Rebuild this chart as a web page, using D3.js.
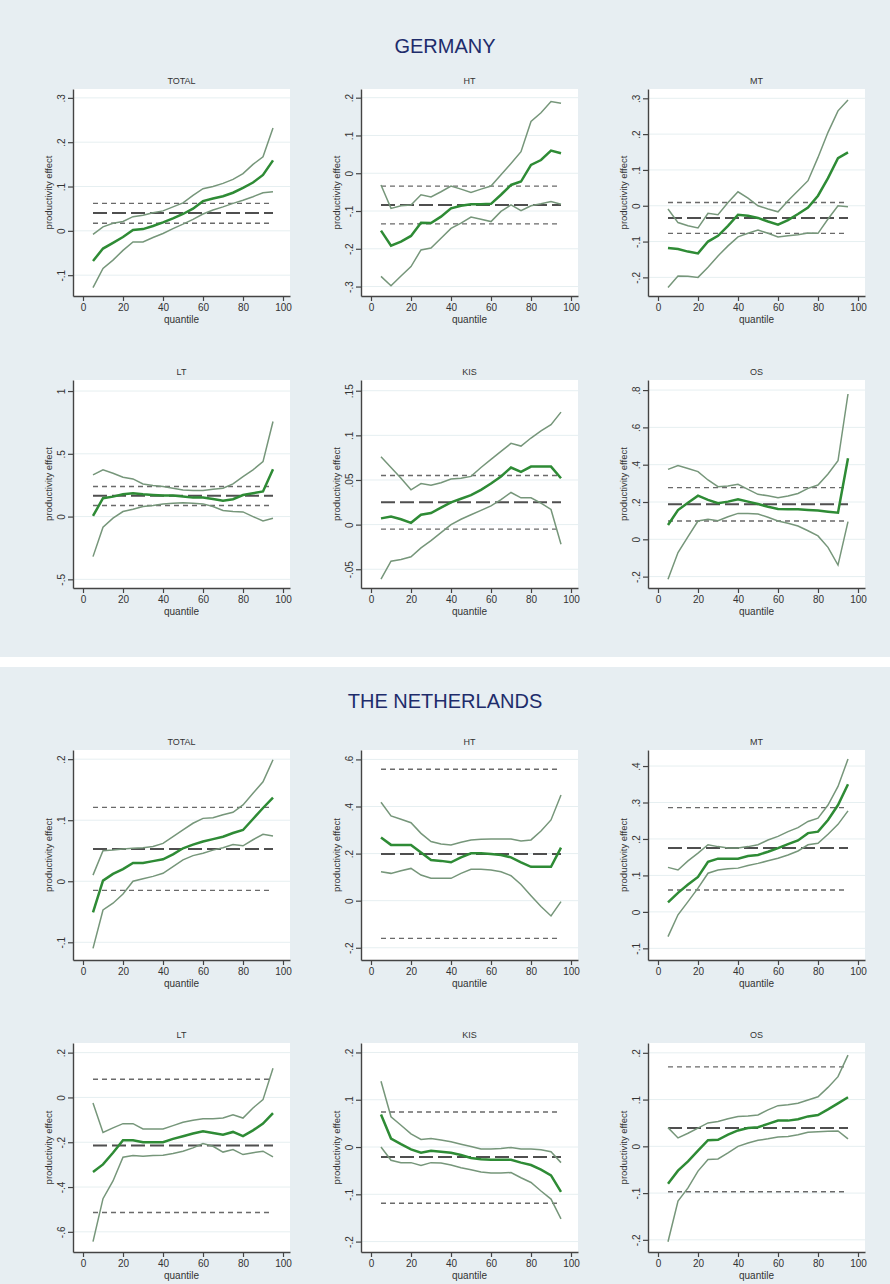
<!DOCTYPE html>
<html>
<head>
<meta charset="utf-8">
<script src="https://cdn.jsdelivr.net/npm/d3@7"></script>
<style>
  body { margin: 0; background: #fff; }
  text { font-family: "Liberation Sans", Arial, sans-serif; }
</style>
</head>
<body>
<div id="chart"></div>
<script>
// quantiles on the x axis
var quantiles = [5, 10, 15, 20, 25, 30, 35, 40, 45, 50, 55, 60, 65, 70, 75, 80, 85, 90, 95];
var sectors = ["TOTAL", "HT", "MT", "LT", "KIS", "OS"];
var countries = ["GERMANY", "THE NETHERLANDS"];

// ---- Germany: quantile estimates and confidence bands
var deTotalEst  = [-0.068,-0.040,-0.027,-0.014,0.002,0.004,0.011,0.019,0.028,0.038,0.050,0.067,0.073,0.078,0.086,0.097,0.109,0.126,0.159];
var deTotalLow  = [-0.128,-0.085,-0.066,-0.044,-0.025,-0.025,-0.015,-0.006,0.005,0.015,0.026,0.038,0.047,0.054,0.062,0.069,0.077,0.086,0.088];
var deTotalHigh = [-0.008,0.009,0.017,0.021,0.032,0.035,0.041,0.045,0.054,0.063,0.080,0.095,0.100,0.107,0.116,0.129,0.150,0.167,0.232];

var deHtEst  = [-0.152,-0.192,-0.181,-0.166,-0.131,-0.132,-0.115,-0.093,-0.086,-0.082,-0.082,-0.081,-0.057,-0.031,-0.022,0.022,0.035,0.060,0.053];
var deHtLow  = [-0.273,-0.298,-0.272,-0.247,-0.203,-0.198,-0.172,-0.146,-0.132,-0.116,-0.122,-0.128,-0.101,-0.084,-0.099,-0.086,-0.081,-0.075,-0.082];
var deHtHigh = [-0.031,-0.093,-0.086,-0.084,-0.057,-0.063,-0.049,-0.034,-0.042,-0.051,-0.042,-0.034,-0.004,0.026,0.057,0.137,0.160,0.190,0.185];

var deMtEst  = [-0.118,-0.121,-0.128,-0.133,-0.100,-0.084,-0.056,-0.025,-0.028,-0.034,-0.044,-0.053,-0.040,-0.023,-0.005,0.028,0.077,0.133,0.149];
var deMtLow  = [-0.228,-0.196,-0.197,-0.200,-0.172,-0.140,-0.112,-0.087,-0.077,-0.068,-0.077,-0.087,-0.084,-0.081,-0.076,-0.077,-0.037,0.000,-0.003];
var deMtHigh = [-0.009,-0.047,-0.056,-0.062,-0.021,-0.025,0.009,0.039,0.021,0.000,-0.009,-0.017,0.014,0.042,0.070,0.135,0.205,0.265,0.295];

var deLtEst  = [0.005,0.146,0.159,0.178,0.186,0.178,0.172,0.167,0.167,0.159,0.151,0.151,0.140,0.127,0.138,0.172,0.186,0.200,0.377];
var deLtLow  = [-0.319,-0.085,-0.013,0.040,0.058,0.080,0.088,0.101,0.106,0.111,0.106,0.101,0.080,0.048,0.040,0.037,0.000,-0.035,-0.013];
var deLtHigh = [0.332,0.372,0.345,0.313,0.300,0.260,0.247,0.239,0.226,0.212,0.207,0.207,0.218,0.226,0.260,0.319,0.372,0.438,0.757];

var deKisEst  = [0.007,0.009,0.006,0.002,0.011,0.013,0.019,0.025,0.029,0.033,0.039,0.046,0.054,0.064,0.059,0.065,0.065,0.065,0.052];
var deKisLow  = [-0.061,-0.041,-0.039,-0.036,-0.026,-0.018,-0.009,0.000,0.006,0.011,0.016,0.021,0.028,0.036,0.030,0.030,0.024,0.017,-0.022];
var deKisHigh = [0.076,0.064,0.052,0.039,0.046,0.044,0.047,0.051,0.052,0.054,0.064,0.073,0.082,0.091,0.088,0.097,0.105,0.112,0.126];

var deOsEst  = [0.077,0.157,0.196,0.234,0.211,0.193,0.202,0.214,0.202,0.189,0.175,0.163,0.161,0.161,0.157,0.154,0.148,0.143,0.434];
var deOsLow  = [-0.214,-0.071,0.014,0.098,0.107,0.100,0.121,0.139,0.139,0.136,0.118,0.098,0.086,0.071,0.046,0.018,-0.043,-0.138,0.095];
var deOsHigh = [0.375,0.395,0.380,0.363,0.318,0.282,0.286,0.295,0.268,0.241,0.234,0.223,0.232,0.246,0.273,0.291,0.350,0.421,0.779];

// Germany OLS estimate and its band, one per sector
var deOls     = [0.040,-0.084,-0.034,0.165,0.025,0.188];
var deOlsLow  = [0.017,-0.134,-0.077,0.088,-0.005,0.098];
var deOlsHigh = [0.062,-0.034,0.009,0.239,0.055,0.277];

// ---- Netherlands
var nlTotalEst  = [-0.051,0.001,0.012,0.020,0.030,0.030,0.033,0.036,0.044,0.054,0.060,0.065,0.069,0.073,0.079,0.084,0.102,0.120,0.137];
var nlTotalLow  = [-0.110,-0.047,-0.036,-0.021,0.000,0.004,0.008,0.013,0.024,0.035,0.042,0.046,0.051,0.055,0.060,0.058,0.068,0.077,0.074];
var nlTotalHigh = [0.010,0.050,0.051,0.053,0.054,0.055,0.057,0.062,0.073,0.084,0.095,0.103,0.104,0.109,0.113,0.125,0.144,0.163,0.199];

var nlHtEst  = [0.268,0.237,0.237,0.237,0.205,0.173,0.169,0.163,0.184,0.201,0.201,0.198,0.194,0.184,0.163,0.144,0.144,0.144,0.225];
var nlHtLow  = [0.123,0.116,0.127,0.137,0.109,0.095,0.095,0.095,0.116,0.133,0.133,0.130,0.123,0.106,0.069,0.021,-0.025,-0.065,-0.004];
var nlHtHigh = [0.418,0.360,0.346,0.331,0.286,0.251,0.241,0.237,0.248,0.258,0.261,0.262,0.262,0.262,0.254,0.258,0.296,0.343,0.449];

var nlMtEst  = [0.026,0.052,0.075,0.096,0.137,0.146,0.146,0.146,0.153,0.156,0.165,0.175,0.186,0.196,0.216,0.220,0.252,0.293,0.350];
var nlMtLow  = [-0.068,-0.008,0.028,0.065,0.106,0.115,0.118,0.120,0.127,0.133,0.140,0.147,0.156,0.167,0.184,0.188,0.213,0.240,0.277];
var nlMtHigh = [0.122,0.115,0.140,0.161,0.184,0.179,0.175,0.175,0.179,0.184,0.197,0.207,0.220,0.231,0.248,0.257,0.293,0.344,0.419];

var nlLtEst  = [-0.333,-0.299,-0.247,-0.191,-0.191,-0.200,-0.200,-0.200,-0.185,-0.173,-0.161,-0.151,-0.159,-0.166,-0.154,-0.173,-0.147,-0.117,-0.070];
var nlLtLow  = [-0.644,-0.452,-0.373,-0.267,-0.259,-0.262,-0.259,-0.258,-0.250,-0.240,-0.225,-0.206,-0.218,-0.244,-0.233,-0.255,-0.247,-0.240,-0.265];
var nlLtHigh = [-0.025,-0.156,-0.136,-0.117,-0.117,-0.141,-0.141,-0.141,-0.126,-0.111,-0.102,-0.095,-0.095,-0.092,-0.077,-0.092,-0.047,-0.010,0.130];

var nlKisEst  = [0.069,0.018,0.006,-0.005,-0.012,-0.008,-0.010,-0.012,-0.017,-0.023,-0.026,-0.027,-0.027,-0.027,-0.033,-0.038,-0.048,-0.060,-0.095];
var nlKisLow  = [0.000,-0.028,-0.033,-0.033,-0.039,-0.033,-0.034,-0.038,-0.044,-0.048,-0.053,-0.055,-0.055,-0.054,-0.065,-0.075,-0.093,-0.110,-0.152];
var nlKisHigh = [0.139,0.064,0.046,0.028,0.016,0.018,0.015,0.011,0.006,0.001,-0.004,-0.004,-0.003,-0.001,-0.004,-0.004,-0.006,-0.010,-0.033];

var nlOsEst  = [-0.080,-0.052,-0.032,-0.009,0.013,0.014,0.025,0.034,0.039,0.041,0.048,0.055,0.055,0.058,0.064,0.067,0.079,0.092,0.105];
var nlOsLow  = [-0.204,-0.117,-0.089,-0.053,-0.028,-0.027,-0.014,0.000,0.007,0.013,0.016,0.020,0.021,0.025,0.030,0.031,0.032,0.033,0.016];
var nlOsHigh = [0.040,0.018,0.028,0.039,0.050,0.053,0.059,0.064,0.065,0.067,0.078,0.087,0.089,0.092,0.099,0.106,0.126,0.149,0.195];

var nlOls     = [0.053,0.198,0.175,-0.215,-0.021,0.039];
var nlOlsLow  = [-0.015,-0.160,0.060,-0.514,-0.119,-0.097];
var nlOlsHigh = [0.121,0.558,0.286,0.081,0.074,0.170];

// y tick labels and axis extents per panel
var deTicks = [[-.1,0,.1,.2,.3],[-.3,-.2,-.1,0,.1,.2],[-.2,-.1,0,.1,.2,.3],[-.5,0,.5,1],[-.05,0,.05,.1,.15],[-.2,0,.2,.4,.6,.8]];
var nlTicks = [[-.1,0,.1,.2],[-.2,0,.2,.4,.6],[-.1,0,.1,.2,.3,.4],[-.6,-.4,-.2,0,.2],[-.2,-.1,0,.1,.2],[-.2,-.1,0,.1,.2]];
var deRange = [[-0.147,0.320],[-0.325,0.223],[-0.252,0.326],[-0.569,1.088],[-0.071,0.162],[-0.261,0.854]];
var nlRange = [[-0.129,0.215],[-0.252,0.640],[-0.132,0.444],[-0.690,0.243],[-0.222,0.220],[-0.226,0.221]];
var xTicks = [0, 20, 40, 60, 80, 100];

var dataSets = [
	{ est: [deTotalEst, deHtEst, deMtEst, deLtEst, deKisEst, deOsEst],
	  low: [deTotalLow, deHtLow, deMtLow, deLtLow, deKisLow, deOsLow],
	  high: [deTotalHigh, deHtHigh, deMtHigh, deLtHigh, deKisHigh, deOsHigh],
	  ols: deOls, olsLow: deOlsLow, olsHigh: deOlsHigh, ticks: deTicks, range: deRange },
	{ est: [nlTotalEst, nlHtEst, nlMtEst, nlLtEst, nlKisEst, nlOsEst],
	  low: [nlTotalLow, nlHtLow, nlMtLow, nlLtLow, nlKisLow, nlOsLow],
	  high: [nlTotalHigh, nlHtHigh, nlMtHigh, nlLtHigh, nlKisHigh, nlOsHigh],
	  ols: nlOls, olsLow: nlOlsLow, olsHigh: nlOlsHigh, ticks: nlTicks, range: nlRange }
];

// layout
var width = 890, height = 1284;
var boxes = [{y: 0, h: 657, titleY: 53}, {y: 667, h: 617, titleY: 708}];
var rowTops = [[89, 380], [750, 1043]];
var rowBottoms = [[296, 588], [960, 1252]];
var colLeft = [73, 361, 648];
var plotW = 217;

// stata style number labels: .3, -.1, 0, 1
var fmt = function(v) {
	var s = String(+v.toFixed(3));
	return s.replace(/^0\./, '.').replace(/^-0\./, '-.');
};

var svg = d3.select("#chart")
	.append("svg")
	.attr("width", width)
	.attr("height", height);

boxes.forEach(function(b, c) {
	svg.append("rect")
		.attr("x", 0).attr("y", b.y)
		.attr("width", width).attr("height", b.h)
		.attr("fill", "#e7eef2");
	svg.append("text")
		.attr("x", width / 2).attr("y", b.titleY)
		.attr("text-anchor", "middle")
		.attr("font-size", "20px")
		.attr("fill", "#1e2c6b")
		.text(countries[c]);
});

dataSets.forEach(function(ds, c) {
	sectors.forEach(function(sector, i) {
		var row = Math.floor(i / 3), col = i % 3;
		var top = rowTops[c][row], bottom = rowBottoms[c][row];
		var left = colLeft[col];

		var x = d3.scaleLinear().domain([-5, 103.5]).range([left, left + plotW]);
		var y = d3.scaleLinear().domain(ds.range[i]).range([bottom, top]);

		var g = svg.append("g").attr("class", "panel");

		g.append("rect")
			.attr("x", left).attr("y", top)
			.attr("width", plotW).attr("height", bottom - top)
			.attr("fill", "#fff");

		// faint grid
		g.selectAll("line.grid")
			.data(ds.ticks[i])
			.enter()
			.append("line")
			.attr("class", "grid")
			.attr("x1", left).attr("x2", left + plotW)
			.attr("y1", function(d) { return y(d); })
			.attr("y2", function(d) { return y(d); })
			.style("stroke", "#e6eff1")
			.style("stroke-width", "1px");

		// panel title
		g.append("text")
			.attr("x", left + plotW / 2).attr("y", top - 5)
			.attr("text-anchor", "middle")
			.attr("font-size", "9px")
			.attr("fill", "#333")
			.text(sector);

		// OLS line and band
		var olsLines = [
			{v: ds.olsHigh[i], dash: "5,4", w: 1.4, col: "#6a6a6a"},
			{v: ds.olsLow[i], dash: "5,4", w: 1.4, col: "#6a6a6a"},
			{v: ds.ols[i], dash: "14,5", w: 2, col: "#4f4f4f"}
		];
		g.selectAll("line.ols")
			.data(olsLines)
			.enter()
			.append("line")
			.attr("class", "ols")
			.attr("x1", x(quantiles[0]))
			.attr("x2", x(quantiles[quantiles.length - 1]))
			.attr("y1", function(d) { return y(d.v); })
			.attr("y2", function(d) { return y(d.v); })
			.style("stroke", function(d) { return d.col; })
			.style("stroke-width", function(d) { return d.w; })
			.style("stroke-dasharray", function(d) { return d.dash; });

		var line = d3.line()
			.x(function(d, k) { return x(quantiles[k]); })
			.y(function(d) { return y(d); });

		[ds.low[i], ds.high[i]].forEach(function(s) {
			g.append("path")
				.datum(s)
				.attr("d", line)
				.attr("fill", "none")
				.style("stroke", "#76967a")
				.style("stroke-width", "1.5px");
		});
		g.append("path")
			.datum(ds.est[i])
			.attr("d", line)
			.attr("fill", "none")
			.style("stroke", "#2e8b35")
			.style("stroke-width", "2.5px");

		// y axis
		var yAxis = g.append("g")
			.attr("transform", "translate(" + left + ",0)")
			.call(d3.axisLeft(y).tickValues(ds.ticks[i]).tickSize(5).tickSizeOuter(0).tickFormat(fmt));
		yAxis.selectAll("text")
			.attr("x", 0).attr("y", -8).attr("dy", 0)
			.attr("transform", "rotate(-90)")
			.attr("text-anchor", "middle")
			.attr("font-size", "10px")
			.attr("font-family", "Liberation Sans, Arial, sans-serif")
			.attr("fill", "#333");

		// x axis
		var xAxis = g.append("g")
			.attr("transform", "translate(0," + bottom + ")")
			.call(d3.axisBottom(x).tickValues(xTicks).tickSize(5).tickSizeOuter(0));
		xAxis.selectAll("text")
			.attr("y", 8)
			.attr("font-size", "10px")
			.attr("font-family", "Liberation Sans, Arial, sans-serif")
			.attr("fill", "#333");

		[yAxis, xAxis].forEach(function(a) {
			a.select(".domain").style("stroke", "#444").style("stroke-width", "1.4px");
			a.selectAll(".tick line").style("stroke", "#444").style("stroke-width", "1.2px");
		});

		g.append("text")
			.attr("x", left + plotW / 2).attr("y", bottom + 27)
			.attr("text-anchor", "middle")
			.attr("font-size", "10px")
			.attr("fill", "#333")
			.text("quantile");

		g.append("text")
			.attr("transform", "translate(" + (left - 21) + "," + ((top + bottom) / 2) + ") rotate(-90)")
			.attr("text-anchor", "middle")
			.attr("font-size", "9.5px")
			.attr("fill", "#333")
			.text("productivity effect");
	});
});
</script>
</body>
</html>
